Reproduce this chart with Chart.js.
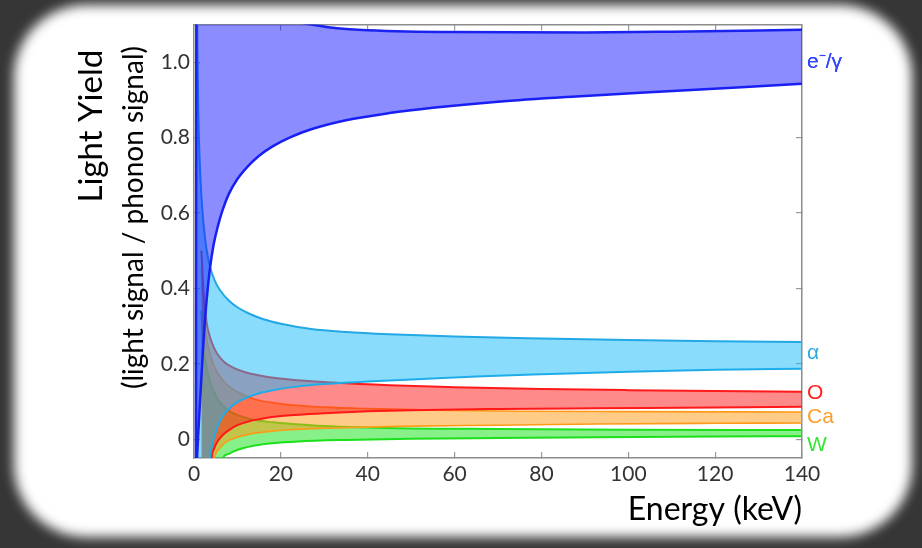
<!DOCTYPE html>
<html>
<head>
<meta charset="utf-8">
<script src="https://cdn.jsdelivr.net/npm/chart.js@4/dist/chart.umd.min.js"></script>
<style>
  html, body { margin: 0; padding: 0; }
  body { width: 922px; height: 548px; background: #363636; position: relative; overflow: hidden; }
  #panel { position: absolute; left: 14px; top: 5px; width: 898px; height: 532px; background: #fff; border-radius: 72px; filter: blur(6px); }
  #wrap { position: absolute; left: 0; top: 0; width: 922px; height: 548px; }
</style>
</head>
<body>
<div id="panel"></div>
<div id="wrap"><canvas id="chart" width="922" height="548"></canvas></div>
<script>
// Energy (keV) / light yield pairs, one pair per band edge
const egUpperE = [0.45, 0.55, 10, 20, 27, 33, 40, 60, 90, 110, 140];
const egUpperY = [-0.1, 1.15, 1.13, 1.115, 1.10, 1.09, 1.085, 1.080, 1.079, 1.081, 1.086];
const egLowerE = [0.45, 0.7, 1.0, 1.5, 2.0, 2.5, 3.0, 3.7, 4.5, 5.5, 6.5, 8, 10, 12.5, 15, 18, 22, 27, 35, 45, 55, 70, 88, 106, 125, 140];
const egLowerY = [-0.1, -0.05, 0.02, 0.12, 0.225, 0.31, 0.38, 0.455, 0.515, 0.565, 0.605, 0.65, 0.69, 0.725, 0.752, 0.776, 0.800, 0.822, 0.846, 0.865, 0.879, 0.895, 0.909, 0.921, 0.933, 0.943];

const alphaUpperE = [0.7, 0.8, 1.0, 1.3, 1.7, 2.2, 2.8, 3.7, 4.8, 6, 8, 10, 12.5, 16, 20, 27, 35, 45, 60, 80, 100, 120, 140];
const alphaUpperY = [1.15, 1.02, 0.86, 0.74, 0.645, 0.57, 0.51, 0.457, 0.42, 0.395, 0.368, 0.35, 0.334, 0.318, 0.306, 0.292, 0.284, 0.278, 0.272, 0.267, 0.263, 0.260, 0.258];
const alphaLowerE = [0.7, 3.5, 3.7, 4.2, 4.8, 5.5, 6.5, 8, 10, 12.5, 15, 19, 24, 30, 40, 50, 65, 80, 100, 120, 140];
const alphaLowerY = [-0.1, -0.1, -0.05, -0.015, 0.012, 0.035, 0.058, 0.08, 0.098, 0.112, 0.122, 0.132, 0.14, 0.146, 0.153, 0.158, 0.166, 0.172, 0.179, 0.184, 0.187];

const oUpperE = [1.7, 2.2, 2.9, 3.7, 4.5, 5.5, 7, 9, 12, 16, 22, 32, 45, 60, 80, 100, 120, 140];
const oUpperY = [0.50, 0.39, 0.31, 0.27, 0.245, 0.224, 0.204, 0.19, 0.177, 0.167, 0.158, 0.150, 0.143, 0.138, 0.133, 0.130, 0.128, 0.126];
const oLowerE = [1.7, 3.9, 4.1, 4.6, 5.2, 6, 7, 8.3, 10, 12.5, 15, 18, 24, 30, 40, 50, 70, 93, 120, 140];
const oLowerY = [-0.1, -0.1, -0.05, -0.026, -0.01, 0.003, 0.015, 0.026, 0.037, 0.047, 0.053, 0.059, 0.065, 0.069, 0.074, 0.077, 0.080, 0.082, 0.084, 0.086];

const caUpperE = [1.7, 2.1, 2.6, 3.3, 4.4, 5.5, 6.7, 8.5, 10.6, 14, 18, 22, 30, 40, 55, 75, 100, 140];
const caUpperY = [0.45, 0.35, 0.29, 0.245, 0.20, 0.175, 0.155, 0.136, 0.122, 0.106, 0.097, 0.091, 0.085, 0.081, 0.077, 0.074, 0.073, 0.072];
const caLowerE = [1.7, 4.6, 4.8, 5.5, 6.7, 8.3, 10.5, 13, 17, 22, 30, 47, 70, 93, 120, 140];
const caLowerY = [-0.1, -0.1, -0.05, -0.03, -0.014, -0.002, 0.007, 0.014, 0.020, 0.025, 0.029, 0.034, 0.037, 0.040, 0.042, 0.043];

const wUpperE = [1.7, 2.2, 2.8, 3.7, 4.8, 6, 7.5, 9, 11.5, 14.4, 18, 22, 30, 47, 70, 100, 140];
const wUpperY = [0.34, 0.245, 0.195, 0.152, 0.12, 0.097, 0.08, 0.069, 0.058, 0.05, 0.045, 0.041, 0.035, 0.029, 0.027, 0.025, 0.024];
const wLowerE = [1.7, 6.5, 6.7, 7.8, 9, 11, 14, 18, 24, 35, 50, 70, 93, 120, 140];
const wLowerY = [-0.1, -0.1, -0.05, -0.04, -0.033, -0.025, -0.017, -0.011, -0.006, -0.002, 0.001, 0.003, 0.005, 0.007, 0.008];

const xTickValues = [0, 20, 40, 60, 80, 100, 120, 140];
const yTickValues = [0, 0.2, 0.4, 0.6, 0.8, 1.0];
const bandNames = ['e\u207B/\u03B3', '\u03B1', 'O', 'Ca', 'W'];
const bandLabelAt = [1.0, 0.228, 0.122, 0.058, -0.016];
const bandColors = ['#3346ff', '#29abe2', '#ff2222', '#ff9e2a', '#33e833'];

function pts(es, ys) {
  return es.map(function (e, i) { return {x: e, y: ys[i]}; });
}

function band(name, ue, uy, le, ly, line, fillCol, w) {
  return [
    {label: name + ' upper', data: pts(ue, uy), borderColor: line, borderWidth: w,
     pointRadius: 0, cubicInterpolationMode: 'monotone',
     fill: {target: '+1', above: fillCol, below: fillCol}},
    {label: name + ' lower', data: pts(le, ly), borderColor: line, borderWidth: w,
     pointRadius: 0, cubicInterpolationMode: 'monotone', fill: false}
  ];
}

// first dataset is painted last, so e/gamma ends up on top
const datasets = [].concat(
  band('e/g', egUpperE, egUpperY, egLowerE, egLowerY, '#1a22ee', 'rgba(21,25,255,0.5)', 2.5),
  band('alpha', alphaUpperE, alphaUpperY, alphaLowerE, alphaLowerY, '#22a8e4', 'rgba(21,185,249,0.5)', 2),
  band('O', oUpperE, oUpperY, oLowerE, oLowerY, '#ff1a1a', 'rgba(255,21,21,0.5)', 2),
  band('Ca', caUpperE, caUpperY, caLowerE, caLowerY, '#ff9a1a', 'rgba(255,153,17,0.5)', 1.6),
  band('W', wUpperE, wUpperY, wLowerE, wLowerY, '#1ee01e', 'rgba(17,225,17,0.5)', 2)
);

function isBandTick(v) { return bandLabelAt.indexOf(v) >= 0; }

const axisGrid = {drawOnChartArea: false, tickLength: -6, color: '#999', lineWidth: 1.2};
const axisBorder = {color: '#8c8c8c', width: 1.5};

new Chart(document.getElementById('chart'), {
  type: 'line',
  data: {datasets: datasets},
  options: {
    responsive: false,
    animation: false,
    layout: {padding: 0},
    plugins: {legend: {display: false}, tooltip: {enabled: false}},
    scales: {
      x: {
        type: 'linear', position: 'bottom', min: 0, max: 140,
        afterBuildTicks: function (s) { s.ticks = xTickValues.map(function (v) { return {value: v}; }); },
        ticks: {color: '#333', font: {family: 'Lato', size: 21}, padding: 10, maxRotation: 0, autoSkip: false},
        grid: axisGrid, border: axisBorder,
        title: {display: true, text: 'Energy (keV)', align: 'end', color: '#000',
                font: {family: 'Lato', size: 32}, padding: {top: 0, bottom: 19}},
        afterFit: function (s) { s.height = 90; }
      },
      x2: {
        type: 'linear', position: 'top', min: 0, max: 140,
        afterBuildTicks: function (s) { s.ticks = xTickValues.map(function (v) { return {value: v}; }); },
        ticks: {display: false},
        grid: axisGrid, border: axisBorder,
        afterFit: function (s) { s.height = 24.5; }
      },
      yt: {
        type: 'linear', position: 'left', weight: 1, min: -0.05, max: 1.1,
        ticks: {display: false}, grid: {display: false}, border: {display: false},
        title: {display: true, text: 'Light Yield   ', align: 'end', color: '#000',
                font: {family: 'Lato', size: 33}, padding: {top: 72, bottom: 0}},
        afterFit: function (s) { s.width = 112; }
      },
      y: {
        type: 'linear', position: 'left', min: -0.05, max: 1.1,
        afterBuildTicks: function (s) { s.ticks = yTickValues.map(function (v) { return {value: v}; }); },
        ticks: {color: '#333', font: {family: 'Lato', size: 21}, padding: 10, autoSkip: false,
                callback: function (v) { return v === 0 ? '0' : v.toFixed(1); }},
        grid: axisGrid, border: axisBorder,
        title: {display: true, text: '(light signal / phonon signal)   ', align: 'end', color: '#000',
                font: {family: 'Lato', size: 28}, padding: {top: 5, bottom: 0}},
        afterFit: function (s) { s.width = 82; }
      },
      y2: {
        type: 'linear', position: 'right', min: -0.05, max: 1.1,
        afterBuildTicks: function (s) {
          s.ticks = yTickValues.concat(bandLabelAt)
            .sort(function (a, b) { return a - b; })
            .map(function (v) { return {value: v}; });
        },
        ticks: {
          padding: 11, autoSkip: false,
          font: {family: 'Liberation Sans', size: 21},
          color: function (ctx) {
            const i = bandLabelAt.indexOf(ctx.tick.value);
            return i >= 0 ? bandColors[i] : '#333';
          },
          callback: function (v) {
            const i = bandLabelAt.indexOf(v);
            return i >= 0 ? bandNames[i] : '';
          }
        },
        grid: {
          drawOnChartArea: false, tickLength: -6, lineWidth: 1.2,
          color: function (ctx) { return ctx.tick && isBandTick(ctx.tick.value) ? 'rgba(0,0,0,0)' : '#999'; }
        },
        border: axisBorder,
        afterFit: function (s) { s.width = 120; }
      }
    }
  }
});
</script>
</body>
</html>
